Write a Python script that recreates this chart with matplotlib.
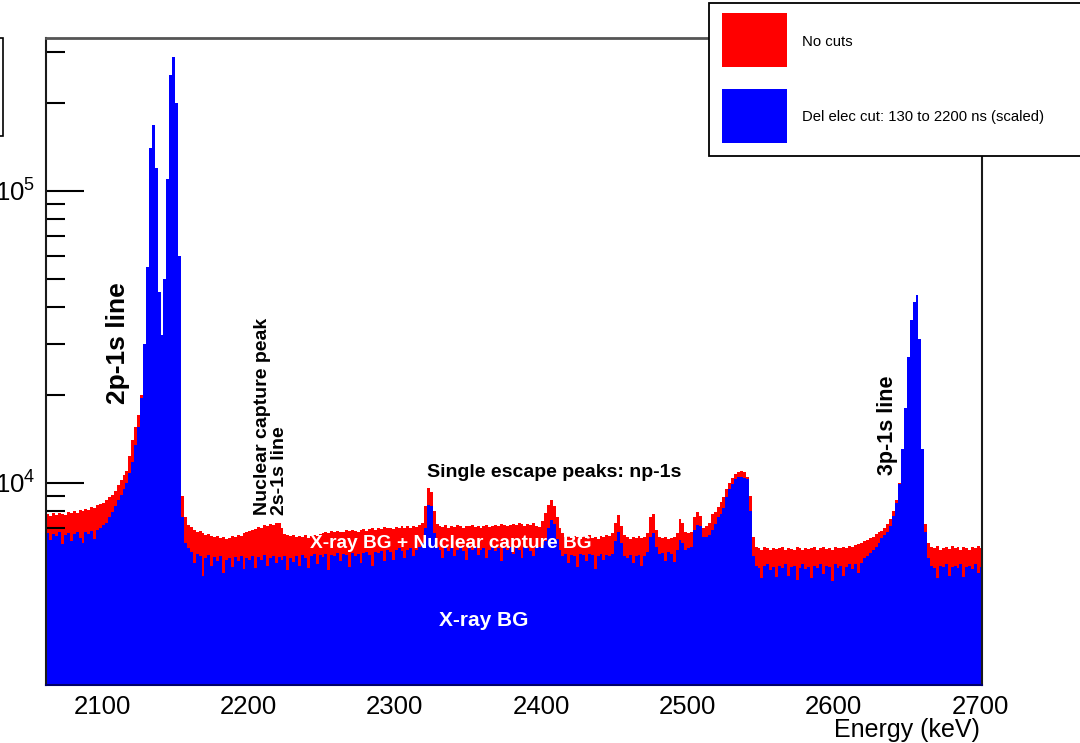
import numpy as np
import matplotlib
matplotlib.use("Agg")
import matplotlib.pyplot as plt
from matplotlib.patches import Rectangle
from matplotlib.ticker import FixedLocator, LogLocator, NullFormatter

plt.rcParams['font.family'] = ['Liberation Sans', 'DejaVu Sans']
plt.rcParams['mathtext.fontset'] = 'custom'
plt.rcParams['mathtext.rm'] = 'Liberation Sans'
plt.rcParams['mathtext.it'] = 'Liberation Sans:italic'
plt.rcParams['mathtext.bf'] = 'Liberation Sans:bold'

# 2 keV bins, 2062 .. 2702 keV
bin_edges = np.arange(2062, 2703, 2)

# counts per bin, no cuts applied
no_cuts = [
    7800, 7700, 7850, 7750, 7900, 7820, 7760, 7950, 7880, 7980,
    7900, 8050, 8000, 8150, 8080, 8250, 8200, 8380, 8450, 8550,
    8700, 8900, 9100, 9400, 9800, 10200, 10600, 11000, 12300, 14000,
    15500, 17000, 20000, 30000, 55000, 140000, 168000, 120000, 45000, 32000,
    50000, 110000, 250000, 288000, 200000, 60000, 9000, 7600, 7150, 7050,
    6900, 6800, 6850, 6700, 6620, 6680, 6550, 6500, 6560, 6450,
    6500, 6420, 6480, 6550, 6500, 6620, 6580, 6700, 6750, 6820,
    6900, 6950, 7050, 7000, 7150, 7100, 7200, 7150, 7250, 7300,
    7000, 6650, 6600, 6550, 6620, 6500, 6580, 6520, 6600, 6480,
    6560, 6620, 6540, 6650, 6700, 6780, 6700, 6820, 6750, 6850,
    6800, 6750, 6880, 6820, 6900, 6850, 6780, 6900, 6950, 6850,
    6920, 7000, 6900, 6980, 6950, 7050, 6980, 7000, 6950, 7050,
    7000, 7100, 7020, 7080, 7000, 7120, 7050, 7150, 7300, 8300,
    9600, 9300, 8000, 7200, 7100, 7050, 7150, 7000, 7100, 7050,
    7150, 7100, 7000, 7120, 7080, 7150, 7050, 7100, 7000, 7080,
    7150, 7050, 7120, 7180, 7100, 7200, 7150, 7100, 7180, 7200,
    7150, 7250, 7200, 7100, 7200, 7150, 7250, 7100, 7050, 7400,
    7900, 8400, 8700, 8300, 7600, 7000, 6700, 6500, 6600, 6450,
    6550, 6500, 6400, 6550, 6480, 6600, 6450, 6500, 6420, 6550,
    6500, 6600, 6550, 6700, 7300, 7750, 7100, 6600, 6500, 6420,
    6500, 6450, 6550, 6480, 6500, 6700, 7600, 7800, 6900, 6500,
    6450, 6500, 6420, 6480, 6500, 6700, 7500, 7300, 6800, 6700,
    6750, 7600, 7950, 7700, 7000, 7100, 7300, 7800, 7950, 8250,
    8600, 8900, 9500, 10000, 10400, 10700, 10900, 10950, 10900, 10500,
    9000, 6500, 6000, 5950, 5900, 6000, 5950, 5880, 5980, 5920,
    5950, 6000, 5900, 5980, 5940, 5880, 6000, 5950, 5900, 5980,
    5920, 5960, 6000, 5900, 5950, 6020, 5940, 5980, 5900, 6000,
    5950, 5980, 6020, 5960, 6050, 6000, 6100, 6150, 6200, 6300,
    6350, 6450, 6500, 6650, 6800, 6850, 7000, 7200, 7500, 8000,
    8700, 10000, 13000, 18000, 27000, 36000, 41500, 44000, 31000, 13000,
    7200, 6200, 6000, 5950, 6050, 5900, 5980, 6000, 5920, 6050,
    5950, 6000, 5900, 6020, 5960, 5880, 6000, 5950, 6050, 5980,
]

# counts per bin, delayed-electron cut 130-2200 ns, scaled
del_elec_cut = [
    6700, 6350, 6650, 6550, 6750, 6150, 6600, 6700, 6300, 6650,
    6800, 6450, 6200, 6750, 6650, 6850, 6400, 6900, 7000, 7150,
    7300, 7650, 7950, 8300, 8700, 9100, 9500, 10000, 10800, 11800,
    13500, 15500, 19500, 30000, 55000, 140000, 168000, 120000, 45000, 32000,
    50000, 110000, 250000, 288000, 200000, 60000, 7600, 6200, 5950, 5800,
    5300, 5700, 5600, 4800, 5500, 5650, 5200, 5550, 5400, 5600,
    4900, 5450, 5500, 5150, 5550, 5400, 5600, 5050, 5500, 5450,
    5600, 5100, 5550, 5450, 5650, 5200, 5500, 5600, 5300, 5550,
    5450, 5600, 5000, 5500, 5350, 5600, 5200, 5650, 5500, 5100,
    5600, 5700, 5250, 5650, 5550, 5700, 5000, 5650, 5600, 5750,
    5400, 5700, 5650, 5150, 5750, 5600, 5700, 5300, 5750, 5800,
    5650, 5200, 5800, 5750, 5850, 5400, 5900, 5800, 5450, 5900,
    5950, 5850, 5500, 5900, 5950, 5600, 5900, 6000, 6200, 7000,
    8400, 8350, 6700, 6000, 5900, 5500, 5950, 5850, 5950, 5600,
    5900, 6000, 5850, 5450, 5950, 5900, 6000, 5650, 5900, 5950,
    5500, 5900, 6000, 5850, 5950, 5400, 5950, 5900, 6000, 5700,
    5950, 5900, 5500, 6000, 5950, 5850, 5600, 5950, 6000, 6100,
    6300, 7000, 7450, 7200, 6400, 5900, 5600, 5700, 5300, 5650,
    5600, 5150, 5700, 5650, 5400, 5700, 5650, 5050, 5600, 5700,
    5450, 5650, 5600, 5700, 6300, 6750, 6200, 5600, 5500, 5650,
    5300, 5600, 5650, 5200, 5600, 5800, 6500, 6700, 6000, 5700,
    5750, 5400, 5800, 5700, 5350, 5900, 6350, 6200, 5900, 5950,
    6000, 6900, 7150, 7100, 6500, 6500, 6600, 6900, 7200, 7600,
    7800, 8200, 8900, 9500, 9900, 10300, 10450, 10450, 10400, 10300,
    8000, 5600, 5200, 5100, 4700, 5200, 5250, 5000, 5150, 4750,
    5200, 5100, 5250, 4800, 5150, 5200, 4650, 5100, 5250, 5050,
    5150, 4700, 5200, 5100, 5250, 4850, 5200, 5150, 4600, 5250,
    5100, 5200, 4800, 5150, 5250, 5050, 5250, 4900, 5300, 5500,
    5600, 5750, 5900, 6000, 6200, 6450, 6600, 6800, 7100, 7700,
    8500, 9900, 13000, 18000, 27000, 36000, 41500, 44000, 31000, 13000,
    6800, 5500, 5200, 5100, 4700, 5200, 5150, 5250, 4800, 5150,
    5200, 5100, 5250, 4750, 5150, 5200, 5050, 5250, 4900, 5150,
]

x_ticks = [2100, 2200, 2300, 2400, 2500, 2600, 2700]
y_major = [1e4, 1e5]
y_major_labels = [r'$\mathregular{10^{4}}$', r'$\mathregular{10^{5}}$']

W, H = 1080, 743
fig = plt.figure(figsize=(W / 100, H / 100), dpi=100)
fig.patch.set_facecolor('white')


def fx(px):
    return px / W


def fy(py):
    return 1 - py / H


ax = fig.add_axes([fx(46), fy(685), fx(982) - fx(46), fy(38) - fy(685)])

# red spectrum sits under the axis ticks, the cut spectrum is drawn over them
ax.stairs(no_cuts, bin_edges, fill=True, baseline=1, color='#ff0000', lw=0,
          zorder=1)
ax.stairs(del_elec_cut, bin_edges, fill=True, baseline=1, color='#0000ff',
          lw=0, zorder=2.7)

ax.set_yscale('log')
ax.set_xlim(2061.7, 2701.4)
ax.set_ylim(2025, 3.346e5)

ax.set_xticks(x_ticks)
ax.set_xticklabels([str(t) for t in x_ticks])
ax.tick_params(axis='x', which='both', direction='in', length=0,
               labelsize=18.5, pad=7, colors='black')

ax.yaxis.set_major_locator(FixedLocator(y_major))
ax.set_yticklabels(y_major_labels)
ax.yaxis.set_minor_locator(LogLocator(base=10, subs=range(2, 10)))
ax.yaxis.set_minor_formatter(NullFormatter())
ax.tick_params(axis='y', which='major', direction='in', length=27, width=1.5,
               labelsize=18.5, pad=8, left=True, right=False)
ax.tick_params(axis='y', which='minor', direction='in', length=14, width=1.5,
               left=True, right=False)

for side in ('left', 'right', 'bottom'):
    ax.spines[side].set_color('#1a1a1a')
    ax.spines[side].set_linewidth(1.5)
ax.spines['top'].set_color('#555555')
ax.spines['top'].set_linewidth(2)
ax.spines['bottom'].set_color('#00006a')
for sp in ax.spines.values():
    sp.set_zorder(3)

# peak labels
bold = dict(fontweight='bold', color='black', zorder=4)
ax.text(2110.9, 18600, '2p-1s line', rotation=90, ha='center', va='bottom',
        fontsize=19, **bold)
ax.text(2210.0, 7750, 'Nuclear capture peak', rotation=90, ha='center',
        va='bottom', fontsize=14, **bold)
ax.text(2221.6, 7750, '2s-1s line', rotation=90, ha='center', va='bottom',
        fontsize=14, **bold)
ax.text(2322.1, 10800, 'Single escape peaks: np-1s', ha='left', va='center',
        fontsize=14, **bold)
ax.text(2636.5, 10600, '3p-1s line', rotation=90, ha='center', va='bottom',
        fontsize=15.5, **bold)
ax.text(2338.5, 6165, 'X-ray BG + Nuclear capture BG', ha='center',
        va='center', fontsize=13.8, fontweight='bold', color='white',
        zorder=4)
ax.text(2361.0, 3380, 'X-ray BG', ha='center', va='center', fontsize=15,
        fontweight='bold', color='white', zorder=4)

fig.text(fx(980), fy(730), 'Energy (keV)', ha='right', va='center',
         fontsize=18)

# legend box
fig.add_artist(Rectangle((fx(709), fy(156)), fx(1095) - fx(709),
                         fy(3) - fy(156), transform=fig.transFigure,
                         facecolor='white', edgecolor='black', lw=1.3,
                         zorder=10, clip_on=False))
fig.add_artist(Rectangle((fx(722), fy(67)), fx(65), fy(0) - fy(54),
                         transform=fig.transFigure, facecolor='#ff0000',
                         edgecolor='none', zorder=11))
fig.add_artist(Rectangle((fx(722), fy(143)), fx(65), fy(0) - fy(54),
                         transform=fig.transFigure, facecolor='#0000ff',
                         edgecolor='none', zorder=11))
fig.text(fx(802), fy(42), 'No cuts', ha='left', va='center', fontsize=10.7,
         zorder=12)
fig.text(fx(802), fy(117), 'Del elec cut: 130 to 2200 ns (scaled)', ha='left',
         va='center', fontsize=10.7, zorder=12)

# edge of neighbouring box on the left
fig.add_artist(Rectangle((fx(-60), fy(136)), fx(62.5), fy(38) - fy(136),
                         transform=fig.transFigure, fill=False,
                         edgecolor='black', lw=1.2, zorder=10, clip_on=False))

fig.savefig('out.png', dpi=100)
